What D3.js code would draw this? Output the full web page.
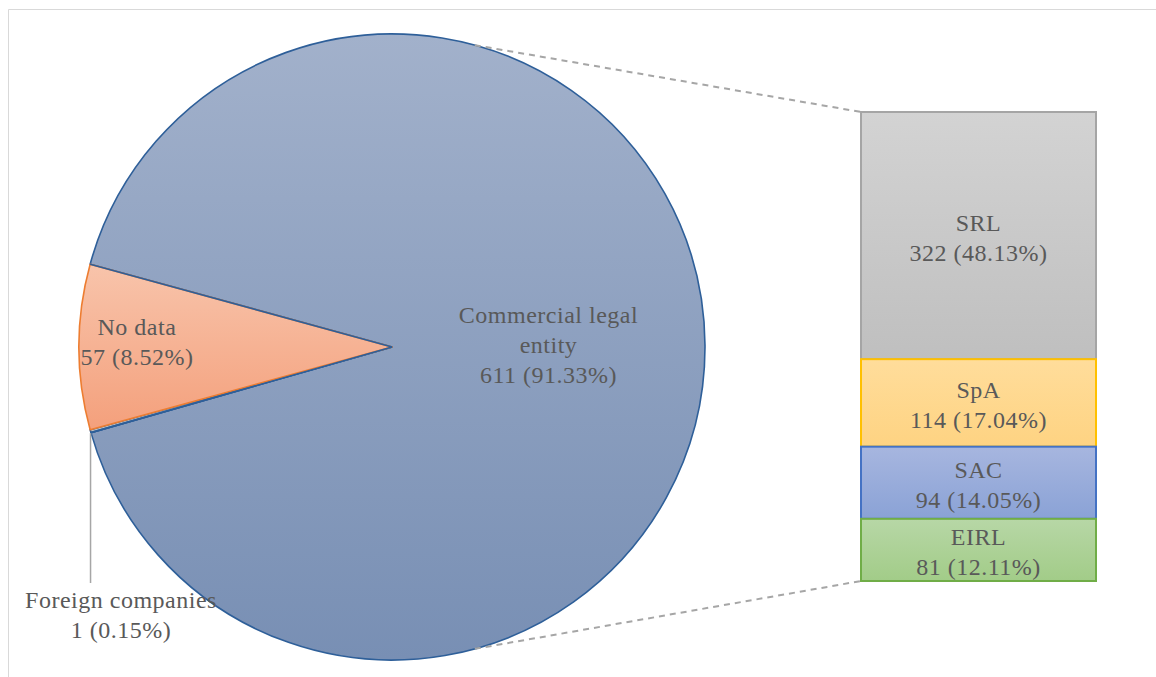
<!DOCTYPE html>
<html>
<head>
<meta charset="utf-8">
<script src="https://cdn.jsdelivr.net/npm/d3@7"></script>
<style>
  body { margin: 0; background: #fff; }
  text { font-family: "Palatino Linotype", "Book Antiqua", Palatino, "Liberation Serif", serif; fill: #595959; }
</style>
</head>
<body>
<div id="chart"></div>
<script>
// pie slices (clockwise order, starting just below the "No data" wedge)
var pieNames = ["Foreign companies", "No data", "Commercial legal entity"];
var pieValues = [1, 57, 611];
// breakdown of the commercial legal entity slice
var barNames = ["SRL", "SpA", "SAC", "EIRL"];
var barValues = [322, 114, 94, 81];

var W = 1156, H = 677;
var total = d3.sum(pieValues);
var fmtPct = function(v) { return (v / total * 100).toFixed(2) + "%"; };

var svg = d3.select("#chart").append("svg")
    .attr("width", W)
    .attr("height", H);

// gradients
var defs = svg.append("defs");
function grad(id, top, bottom) {
  var g = defs.append("linearGradient").attr("id", id)
      .attr("x1", 0).attr("y1", 0).attr("x2", 0).attr("y2", 1);
  g.append("stop").attr("offset", "0%").attr("stop-color", top);
  g.append("stop").attr("offset", "100%").attr("stop-color", bottom);
}
grad("gBlue", "#a2b1cb", "#788fb4");
grad("gOrange", "#f8c4ab", "#f4a07c");
grad("gGray", "#d3d3d3", "#bfbfbf");
grad("gYellow", "#ffdd9b", "#fed382");
grad("gSac", "#a7b6df", "#8aa2d6");
grad("gGreen", "#b7d7a6", "#a2cc88");

var pieFill = {"Foreign companies": "url(#gGray)", "No data": "url(#gOrange)", "Commercial legal entity": "url(#gBlue)"};
var pieStroke = {"Foreign companies": "#2e5f99", "No data": "#ed7d31", "Commercial legal entity": "#2e5f99"};
var barFill = {"SRL": "url(#gGray)", "SpA": "url(#gYellow)", "SAC": "url(#gSac)", "EIRL": "url(#gGreen)"};
var barStroke = {"SRL": "#a5a5a5", "SpA": "#ffc000", "SAC": "#4472c4", "EIRL": "#70ad47"};

// frame (only top and left edges show)
svg.append("line").attr("x1", 8.5).attr("y1", 9.5).attr("x2", W).attr("y2", 9.5)
    .attr("stroke", "#d9d9d9").attr("stroke-width", 1);
svg.append("line").attr("x1", 8.5).attr("y1", 9.5).attr("x2", 8.5).attr("y2", H)
    .attr("stroke", "#d9d9d9").attr("stroke-width", 1);

// pie geometry
var cx = 392, cy = 347, r = 313;
// centre the "No data" wedge on the left side (3pi/2 in d3 angles)
var start = 1.5 * Math.PI - (pieValues[1] / 2 + pieValues[0]) / total * 2 * Math.PI;

var pie = d3.pie().sort(null).value(function(d) { return d; })
    .startAngle(start).endAngle(start + 2 * Math.PI);
var arcs = pie(pieValues);
var arc = d3.arc().innerRadius(0).outerRadius(r);

var gPie = svg.append("g").attr("transform", "translate(" + cx + "," + cy + ")");

// bar scales
var barX0 = 861, barX1 = 1096;
var y = d3.scaleLinear().domain([0, d3.sum(barValues)]).range([112, 581]);
var cum = 0;
var bars = barValues.map(function(v, i) {
  var b = {name: barNames[i], value: v, y0: cum, y1: cum + v};
  cum += v;
  return b;
});

// connector lines from pie to bar (mirrored to the "No data" wedge)
var half = pieValues[1] / 2 / total * 2 * Math.PI;
var conn = [
  {a: half, yy: y(0)},
  {a: Math.PI - half, yy: y(d3.sum(barValues))}
];
svg.selectAll("line.conn").data(conn).enter().append("line")
    .attr("class", "conn")
    .attr("x1", function(d) { return cx + r * Math.sin(d.a); })
    .attr("y1", function(d) { return cy - r * Math.cos(d.a); })
    .attr("x2", barX0)
    .attr("y2", function(d) { return d.yy; })
    .attr("stroke", "#a6a6a6")
    .attr("stroke-width", 2)
    .attr("stroke-dasharray", "6,5");

// draw commercial first so the small wedges sit on top
var drawOrder = [2, 0, 1];
gPie.selectAll("path").data(drawOrder.map(function(i) { return arcs[i]; }))
  .enter().append("path")
    .attr("d", arc)
    .attr("fill", function(d, i) { return pieFill[pieNames[drawOrder[i]]]; })
    .attr("stroke", function(d, i) { return pieStroke[pieNames[drawOrder[i]]]; })
    .attr("stroke-width", 1.6)
    .attr("stroke-linejoin", "round");

// redraw the radial edges of the commercial slice in blue
[arcs[2].startAngle, arcs[0].startAngle].forEach(function(a, k) {
  gPie.append("line")
    .attr("x1", 0).attr("y1", 0)
    .attr("x2", r * Math.sin(a)).attr("y2", -r * Math.cos(a))
    .attr("stroke", "#2e5f99").attr("stroke-width", 1.6);
});

function multiline(sel, lines, x, yc, lh) {
  var t = sel.append("text").attr("text-anchor", "middle")
      .style("font-size", "24px").style("letter-spacing", "0.5px");
  lines.forEach(function(l, i) {
    t.append("tspan")
      .attr("x", x)
      .attr("y", yc + (i - (lines.length - 1) / 2) * lh)
      .attr("dominant-baseline", "central")
      .text(l);
  });
  return t;
}

function mid(d) { return (d.startAngle + d.endAngle) / 2; }

// commercial legal entity label
var aC = mid(arcs[2]);
multiline(svg, ["Commercial legal", "entity", pieValues[2] + " (" + fmtPct(pieValues[2]) + ")"],
  cx + 0.5 * r * Math.sin(aC), cy - 0.5 * r * Math.cos(aC) - 1, 30);

// no data label
var aN = mid(arcs[1]);
multiline(svg, ["No data", pieValues[1] + " (" + fmtPct(pieValues[1]) + ")"],
  cx + 0.815 * r * Math.sin(aN), cy - 0.815 * r * Math.cos(aN) - 5, 30);

// foreign companies: leader line and label below the pie
var aF = mid(arcs[0]);
var fx = cx + r * Math.sin(aF), fy = cy - r * Math.cos(aF);
svg.append("line")
    .attr("x1", fx).attr("y1", fy + 2)
    .attr("x2", fx).attr("y2", 583)
    .attr("stroke", "#a6a6a6").attr("stroke-width", 1.5);
multiline(svg, ["Foreign companies", pieValues[0] + " (" + fmtPct(pieValues[0]) + ")"],
  121, 615, 30);

// stacked bar
var gBar = svg.append("g");
gBar.selectAll("rect").data(bars).enter().append("rect")
    .attr("x", barX0)
    .attr("y", function(d) { return y(d.y0); })
    .attr("width", barX1 - barX0)
    .attr("height", function(d) { return y(d.y1) - y(d.y0); })
    .attr("fill", function(d) { return barFill[d.name]; })
    .attr("stroke", function(d) { return barStroke[d.name]; })
    .attr("stroke-width", 2);

bars.forEach(function(b) {
  multiline(gBar, [b.name, b.value + " (" + fmtPct(b.value) + ")"],
    (barX0 + barX1) / 2, (y(b.y0) + y(b.y1)) / 2 + 2, 30);
});
</script>
</body>
</html>
